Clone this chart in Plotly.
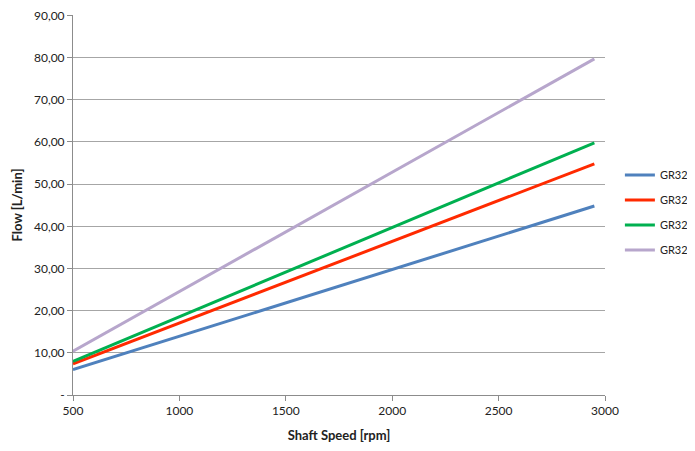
import plotly.graph_objects as go

speed = [500, 2950]
series_names = ["GR32", "GR32", "GR32", "GR32"]
flow_blue = [6.0, 44.8]
flow_red = [7.4, 54.8]
flow_green = [8.0, 59.8]
flow_purple = [10.4, 79.7]
colors = ["#4F81BD", "#FF2A00", "#00B050", "#B7A6CC"]

y_tickvals = [0, 10, 20, 30, 40, 50, 60, 70, 80, 90]
y_ticktext = ["-", "10,00", "20,00", "30,00", "40,00", "50,00", "60,00", "70,00", "80,00", "90,00"]
x_tickvals = [500, 1000, 1500, 2000, 2500, 3000]

fig = go.Figure()
for i, (name, ys, c) in enumerate(zip(series_names, [flow_blue, flow_red, flow_green, flow_purple], colors)):
    fig.add_trace(go.Scatter(x=speed, y=ys, mode="lines", name=name,
                             legendgroup="g%d" % i,
                             line=dict(color=c, width=3)))

font_family = "Lato, 'Open Sans', sans-serif"
fig.update_layout(
    width=687, height=435,
    margin=dict(l=65, r=90, t=7, b=48, autoexpand=False),
    plot_bgcolor="white", paper_bgcolor="white",
    font=dict(family=font_family, size=12, color="#222222"),
    showlegend=True,
    legend=dict(x=1.028, y=0.48, xanchor="left", yanchor="middle",
                font=dict(size=11, family=font_family, color="#222222"),
                tracegroupgap=6, itemwidth=30, bgcolor="rgba(0,0,0,0)"),
    xaxis=dict(range=[500, 3000], tickvals=x_tickvals, showgrid=False,
               showline=True, linecolor="#8c8c8c", linewidth=1,
               ticks="outside", ticklen=5, tickcolor="#8c8c8c",
               zeroline=False, automargin=False, ticklabeloverflow="allow",
               title=dict(text="<b>Shaft Speed [rpm]</b>", font=dict(size=13), standoff=15)),
    yaxis=dict(range=[0, 90.1], tickvals=y_tickvals, ticktext=y_ticktext,
               showgrid=True, gridcolor="#a6a6a6", gridwidth=1,
               showline=True, linecolor="#8c8c8c", linewidth=1,
               ticks="outside", ticklen=5, tickcolor="#8c8c8c",
               zeroline=False, automargin=False, ticklabeloverflow="allow",
               title=dict(text="<b>Flow [L/min]</b>", font=dict(size=13), standoff=8)),
)

fig.write_html("out.html")
